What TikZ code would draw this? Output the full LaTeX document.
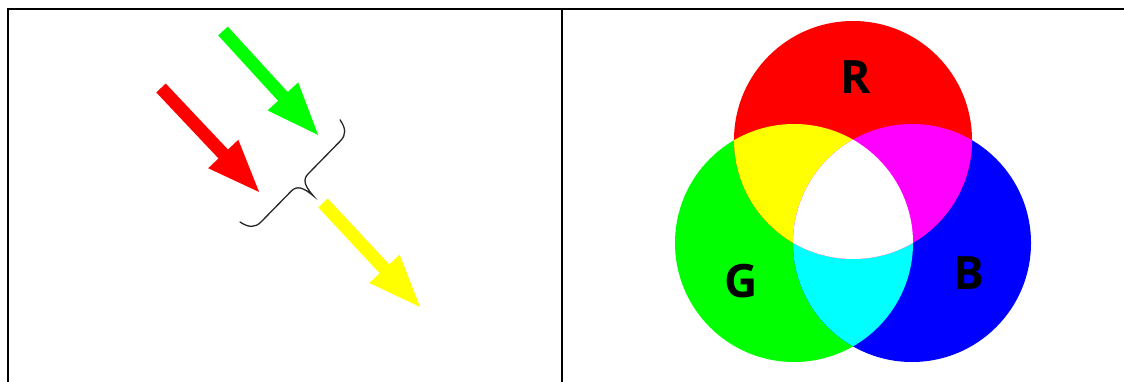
\documentclass[tikz,border=0pt]{standalone}
\usepackage{fontspec}
\setsansfont{Open Sans}
\usetikzlibrary{arrows.meta}

\definecolor{lightred}{RGB}{255,0,0}
\definecolor{lightgreen}{RGB}{0,255,0}
\definecolor{lightblue}{RGB}{0,0,255}
\definecolor{lightyellow}{RGB}{255,255,0}
\definecolor{lightmagenta}{RGB}{255,0,255}
\definecolor{lightcyan}{RGB}{0,255,255}

\begin{document}
\begin{tikzpicture}[x=1pt, y=-1pt,
            frame/.style={line width=2pt},
            ray/.style={line width=13pt, -{Triangle[width=37pt, length=55pt]}},
            bracket/.style={line width=1.3pt, line cap=round, black!85},
            channel/.style={font=\sffamily\bfseries\fontsize{46}{46}\selectfont, inner sep=0pt}
        ]
        \useasboundingbox (0,0) rectangle (1124,382);

        % Rahmen
        \draw[frame] (8,382) -- (8,9) -- (1124,9);
        \draw[frame] (562,9) -- (562,382);

        % Pfeile
        \coordinate (gtail) at (223,31);
        \coordinate (gtip) at (320,137);
        \coordinate (rtail) at (161,88);
        \coordinate (rtip) at (261,194);
        \coordinate (ytail) at (323,203);
        \coordinate (ytip) at (422,309);
        \draw[ray, lightgreen] (gtail) -- (gtip);
        \draw[ray, lightred] (rtail) -- (rtip);
        \draw[ray, lightyellow] (ytail) -- (ytip);

        % Klammer
        \coordinate (blow) at (240,222);
        \begin{scope}[shift={(blow)}, rotate=45.6, x=1pt, y=1pt]
            \draw[bracket] (0,0) .. controls (2,-10) and (6,-15) .. (15,-15)
                -- (58,-15) .. controls (66,-15) and (69,-21) .. (70,-34)
                .. controls (71,-21) and (74,-15) .. (82,-15)
                -- (128,-15) .. controls (137,-15) and (141,-10) .. (143,0);
        \end{scope}

        % Kreise
        \coordinate (cr) at (853,140);
        \coordinate (cg) at (794,243);
        \coordinate (cb) at (912,243);
        \fill[lightgreen] (cg) circle (119pt);
        \fill[lightblue] (cb) circle (119pt);
        \fill[lightred] (cr) circle (119pt);
        \begin{scope}
            \clip (cg) circle (119pt);
            \fill[lightcyan] (cb) circle (119pt);
        \end{scope}
        \begin{scope}
            \clip (cr) circle (119pt);
            \fill[lightyellow] (cg) circle (119pt);
            \fill[lightmagenta] (cb) circle (119pt);
            \clip (cg) circle (119pt);
            \fill[white] (cb) circle (119pt);
        \end{scope}

        % Beschriftung
        \node[channel] (lr) at (856,77) {R};
        \node[channel] (lg) at (741,281) {G};
        \node[channel] (lb) at (969,273) {B};

    \end{tikzpicture}
\end{document}
